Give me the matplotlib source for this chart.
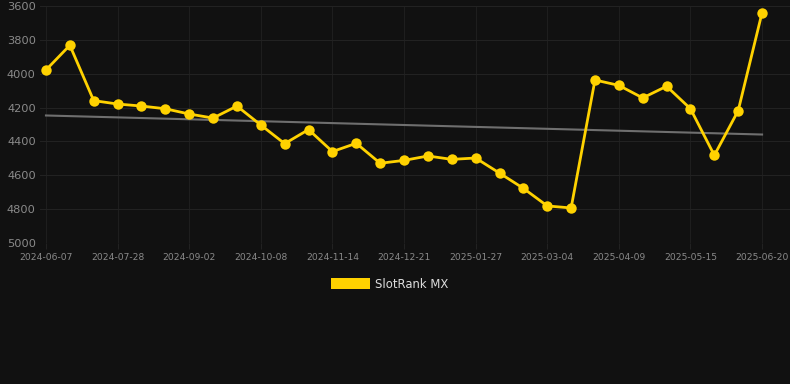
"""
SlotRank MX rank history chart (dark theme)
"""
import numpy as np
import matplotlib
matplotlib.use('Agg')
import matplotlib.pyplot as plt
from matplotlib.patches import Patch

# Data
dates = ['2024-06-07', '', '', '2024-07-28', '', '', '2024-09-02', '', '', '2024-10-08',
         '', '', '2024-11-14', '', '', '2024-12-21', '', '', '2025-01-27', '', '',
         '2025-03-04', '', '', '2025-04-09', '', '', '2025-05-15', '', '', '2025-06-20']
rank = [3978, 3832, 4159, 4179, 4191, 4207, 4238, 4262, 4191, 4303,
        4413, 4330, 4460, 4411, 4529, 4512, 4486, 4506, 4498, 4587,
        4677, 4781, 4793, 4037, 4069, 4143, 4074, 4207, 4482, 4218, 3639]
series_name = 'SlotRank MX'

BG = '#111111'
YELLOW = '#FFD200'

fig = plt.figure(figsize=(7.9, 3.84), dpi=100, facecolor=BG)
ax = fig.add_axes([40 / 790, 1 - 243 / 384, 750 / 790, 237 / 384], facecolor=BG)

x = np.arange(len(rank))
y = np.array(rank)

# trend line (least squares fit)
coef = np.polyfit(x, y, 1)
ax.plot(x, np.polyval(coef, x), color='#6f6f6f', linewidth=1.5, zorder=2)

ax.plot(x, y, color=YELLOW, linewidth=2.0, marker='o', markersize=7.5,
        markeredgewidth=0, zorder=3)

ax.set_ylim(5000, 3600)
ax.set_xlim(-0.25, 31.17)
ax.set_yticks(np.arange(3600, 5001, 200))

tick_idx = [i for i, d in enumerate(dates) if d]
ax.set_xticks(tick_idx)
ax.set_xticklabels([dates[i] for i in tick_idx])

ax.grid(True, color='#1e1e1e', linewidth=0.8, zorder=0)
ax.grid(True, axis='y', color='#222222', linewidth=0.8, zorder=0)
for side in ax.spines.values():
    side.set_visible(False)
ax.tick_params(axis='y', length=0, pad=3, labelsize=8.2, labelcolor='#8a8a8a')
ax.tick_params(axis='x', length=4, width=0.8, color='#222222', pad=3,
               labelsize=6.6, labelcolor='#8a8a8a')

leg = fig.legend(handles=[Patch(facecolor=YELLOW, edgecolor='none', label=series_name)],
                 loc='center', bbox_to_anchor=(390 / 790, 1 - 284 / 384),
                 frameon=False, fontsize=8.4, handlelength=3.3, handleheight=1.1,
                 handletextpad=0.5)
for t in leg.get_texts():
    t.set_color('#dddddd')

fig.savefig('out.png', dpi=100, facecolor=BG)
